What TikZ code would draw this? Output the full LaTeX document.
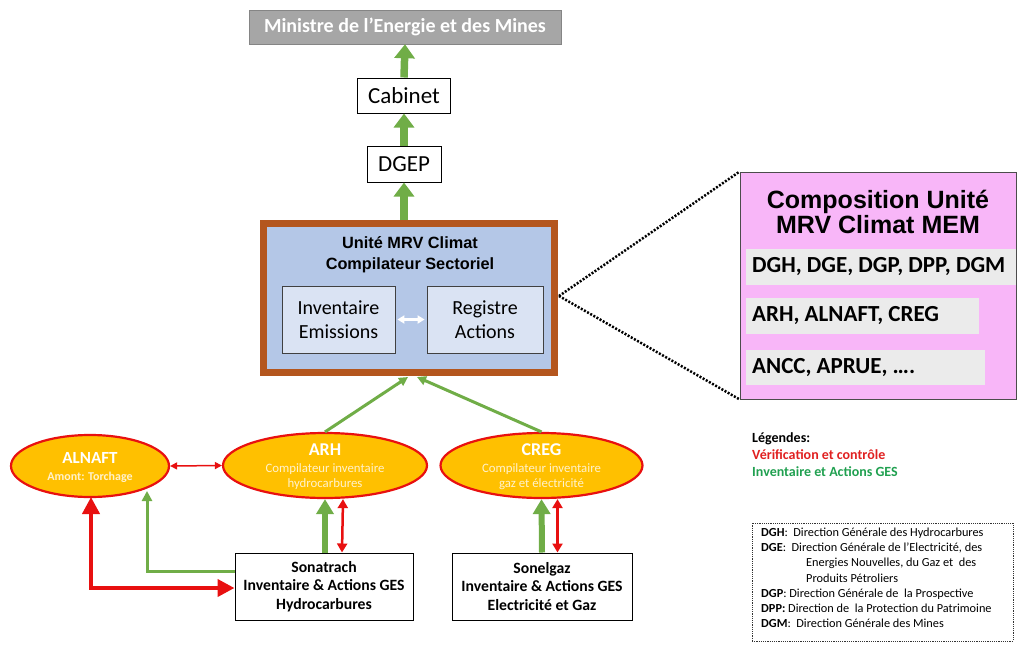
\documentclass[tikz,border=0pt]{standalone}
\usepackage{fontspec}
\setmainfont{Carlito}
\newfontfamily\arialfont{Liberation Sans}
\usetikzlibrary{shapes.geometric,arrows.meta}
\definecolor{grn}{HTML}{70AD47}
\definecolor{rd}{HTML}{E81010}
\definecolor{legred}{HTML}{E02020}
\definecolor{leggreen}{HTML}{20A050}
\definecolor{brn}{HTML}{B4561E}
\definecolor{mrvblue}{HTML}{B4C7E7}
\definecolor{boxblue}{HTML}{DAE3F3}
\definecolor{pinkbox}{HTML}{F8B6F8}
\definecolor{lgray}{HTML}{EBEBEB}
\definecolor{mgray}{HTML}{A6A6A6}
\definecolor{ellfill}{HTML}{FFC000}
\definecolor{cream}{HTML}{FFF2CC}
\tikzset{
  plainbox/.style={draw=black, line width=1pt, fill=white, inner sep=0pt},
  blockarrow/.style={draw=grn, line width=7.5pt, -{Triangle[length=14pt,width=20pt]}},
  lowblockarrow/.style={draw=grn, line width=6pt, -{Triangle[length=15pt,width=17pt]}},
  thingreen/.style={draw=grn, line width=3pt, -{Triangle[length=10pt,width=10pt]}},
  reddouble/.style={draw=rd, line width=2.5pt, {Triangle[length=9pt,width=10pt]}-{Triangle[length=9pt,width=10pt]}},
  ellnode/.style={ellipse, draw=rd, line width=2.2pt, fill=ellfill, inner sep=0pt},
  elltext/.style={text=white, inner sep=0pt},
  ellsub/.style={text=cream, inner sep=0pt, align=center, font=\fontsize{12.8}{15}\selectfont},
  graybox/.style={fill=lgray, inner sep=0pt, anchor=west},
  grayboxtext/.style={anchor=west, inner sep=0pt, font=\fontsize{23}{26}\selectfont\bfseries},
  bottombox/.style={plainbox, minimum height=67pt, align=center, font=\fontsize{15.7}{18.5}\selectfont\bfseries},
  legtext/.style={anchor=west, inner sep=0pt, font=\fontsize{14}{16}\selectfont\bfseries},
}
\begin{document}
\begin{tikzpicture}[x=1pt,y=-1pt]
\useasboundingbox (0,0) rectangle (1017,653);

% top chain
\node[fill=mgray, draw=mgray!80!black, line width=0.5pt, minimum width=312pt, minimum height=34pt, inner sep=0pt,
      text=white, font=\fontsize{20}{22}\selectfont\bfseries] (min) at (405,27) {Ministre de l’Energie et des Mines};
\node[plainbox, minimum width=93pt, minimum height=35pt, font=\fontsize{23}{26}\selectfont] (cab) at (404,95.5) {Cabinet};
\node[plainbox, minimum width=74pt, minimum height=36pt, font=\fontsize{23}{26}\selectfont] (dgep) at (404,164) {DGEP};

% MRV unit
\node[draw=brn, line width=7pt, fill=mrvblue, minimum width=291pt, minimum height=149pt, inner sep=0pt] (mrv) at (409,298) {};
\node[inner sep=0pt, align=center, font=\arialfont\fontsize{16.3}{21}\selectfont\bfseries] (mrvt) at (410,255) {Unité MRV Climat\\Compilateur Sectoriel};
\node[draw=black!75, line width=0.8pt, fill=boxblue, minimum width=113pt, minimum height=67pt, inner sep=0pt,
      align=center, font=\fontsize{20}{24}\selectfont] (inv) at (338.5,319.5) {Inventaire\\Emissions};
\node[draw=black!75, line width=0.8pt, fill=boxblue, minimum width=116pt, minimum height=67pt, inner sep=0pt,
      align=center, font=\fontsize{20}{24}\selectfont] (reg) at (485,319.5) {Registre\\Actions};
\draw[white, line width=2.5pt, {Triangle[length=7pt,width=8pt]}-{Triangle[length=7pt,width=8pt]}] ([xshift=2pt]inv.east) -- ([xshift=-2pt]reg.west);

\draw[blockarrow] (cab.north) -- (min.south);
\draw[blockarrow] (dgep.north) -- (cab.south);
\draw[blockarrow] (mrv.north -| dgep.south) -- (dgep.south);

% composition box
\node[draw=black!70, line width=0.8pt, fill=pinkbox, minimum width=276pt, minimum height=227pt, inner sep=0pt] (comp) at (878,285.5) {};
\node[inner sep=0pt, align=center, font=\arialfont\fontsize{25}{25}\selectfont\bfseries] (compt) at (878,212) {Composition Unité\\MRV Climat MEM};
\node[graybox, minimum width=270pt, minimum height=36pt] (g1) at (746,267) {};
\node[graybox, minimum width=233pt, minimum height=36pt] (g2) at (746,316) {};
\node[graybox, minimum width=239pt, minimum height=35pt] (g3) at (746,367.5) {};
\node[grayboxtext] (g1t) at (752,267) {DGH, DGE, DGP, DPP, DGM};
\node[grayboxtext] (g2t) at (752,316) {ARH, ALNAFT, CREG};
\node[grayboxtext] (g3t) at (752,367.5) {ANCC, APRUE, ….};

\coordinate (mrvr) at (559,296);
\draw[black, line width=2.5pt, dash pattern=on 2pt off 1.6pt] (mrvr) -- (comp.north west);
\draw[black, line width=2.5pt, dash pattern=on 2pt off 1.6pt] (mrvr) -- (comp.south west);

% ellipses
\node[ellnode, minimum width=158pt, minimum height=62pt] (aln) at (90,466) {};
\node[ellnode, minimum width=204pt, minimum height=65pt] (arh) at (325,465.5) {};
\node[ellnode, minimum width=202pt, minimum height=65pt] (creg) at (541.5,465.5) {};
\node[elltext, font=\fontsize{17}{18}\selectfont\bfseries] (alnt) at (90,458) {ALNAFT};
\node[ellsub, font=\fontsize{12}{14}\selectfont\bfseries] (alns) at (90,477) {Amont: Torchage};
\node[elltext, font=\fontsize{18}{19}\selectfont\bfseries] (arht) at (325,450) {ARH};
\node[ellsub] (arhs) at (325,476.5) {Compilateur inventaire\\hydrocarbures};
\node[elltext, font=\fontsize{18}{19}\selectfont\bfseries] (cregt) at (541.5,450) {CREG};
\node[ellsub] (cregs) at (541.5,476.5) {Compilateur inventaire\\gaz et électricité};

% bottom boxes
\node[bottombox, minimum width=178pt] (sona) at (324,586.5) {Sonatrach\\Inventaire \& Actions GES\\Hydrocarbures};
\node[bottombox, minimum width=180pt] (sonel) at (542,586.5) {Sonelgaz\\Inventaire \& Actions GES\\Electricité et Gaz};

% connectors
\draw[reddouble, line width=1.5pt, {Triangle[length=7pt,width=7pt]}-{Triangle[length=7pt,width=7pt]}] (aln.east) -- (arh.west);
\draw[lowblockarrow] (sona.north -| arh.south) -- (arh.south);
\draw[reddouble] ([xshift=18pt]sona.north) -- ([xshift=18pt]arh.south);
\draw[lowblockarrow] ([xshift=0.5pt]sonel.north -| creg.south) -- (creg.south);
\draw[reddouble] ([xshift=15.5pt]sonel.north) -- ([xshift=15.5pt]sonel.north |- creg.south);

\coordinate (mrvb1) at (408,377);
\coordinate (mrvb2) at (417,377);
\draw[draw=grn, line width=3pt, -{Triangle[length=9pt,width=9pt]}] (arh.north) -- (mrvb1);
\draw[draw=grn, line width=3pt, -{Triangle[length=9pt,width=9pt]}] (creg.north) -- (mrvb2);

\coordinate (gcorner) at (147,571);
\coordinate (gtop) at (147,491);
\draw[thingreen] (sona.west |- gcorner) -- (gcorner) -- (gtop);
\coordinate (rcorner) at (91,588);
\coordinate (rtop) at (91,497);
\draw[draw=rd, line width=4pt, {Triangle[length=17pt,width=17pt]}-{Triangle[length=17pt,width=17pt]}, line join=miter] (rtop) -- (rcorner) -- (sona.west |- rcorner);

% legend
\node[legtext] (leg1) at (752,439) {Légendes:};
\node[legtext, text=legred] (leg2) at (752,455) {Vérification et contrôle};
\node[legtext, text=leggreen] (leg3) at (752,472) {Inventaire et Actions GES};

\node[draw=black!80, line width=0.6pt, dash pattern=on 1.2pt off 1pt, minimum width=261pt, minimum height=118pt, inner sep=0pt] (abbr) at (882.5,582) {};
\node[anchor=north west, inner sep=0pt, align=left, font=\fontsize{12.3}{15.1}\selectfont] (abbrt) at (761,528)
{\textbf{DGH}:\ \ Direction Générale des Hydrocarbures\\
 \textbf{DGE}:\ \ Direction Générale de l’Electricité, des\\
 \hspace*{45pt}Energies Nouvelles, du Gaz et\ \ des\\
 \hspace*{45pt}Produits Pétroliers\\
 \textbf{DGP}:\ Direction Générale de\ \ la Prospective\\
 \textbf{DPP:} Direction de\ \ la Protection du Patrimoine\\
 \textbf{DGM}:\ \ Direction Générale des Mines};
\end{tikzpicture}
\end{document}
